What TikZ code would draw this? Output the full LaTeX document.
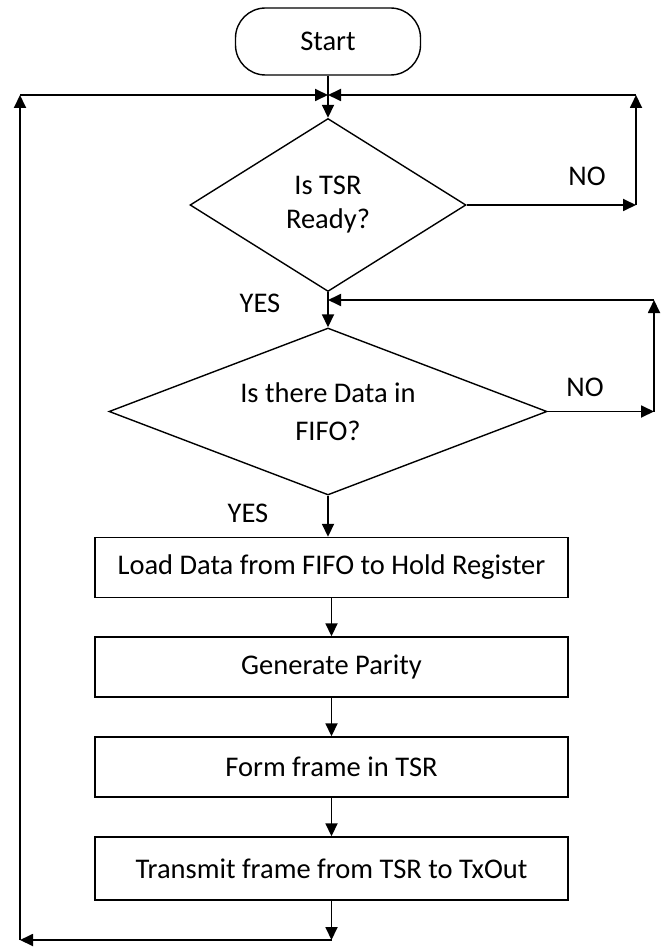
\documentclass[tikz,border=0pt]{standalone}
\usepackage{fontspec}
\setmainfont{Carlito}
\usetikzlibrary{shapes.geometric,arrows.meta}
\begin{document}
\begin{tikzpicture}[x=1pt,y=-1pt,
  line width=1.8pt,
  tip/.style={-{Triangle[length=13pt,width=12pt]}},
  txt/.style={font=\fontsize{28.5}{34}\selectfont, text=black},
  procbox/.style={draw, line width=1.4pt, txt, minimum width=473pt, minimum height=60pt, inner sep=0pt},
  decbox/.style={draw, line width=1.4pt, txt, shape=diamond, inner sep=0pt, align=center},
  termbox/.style={draw, line width=1.4pt, txt, rounded corners=30pt, minimum width=185pt, minimum height=67pt, inner sep=0pt},
  lbl/.style={txt, inner sep=0pt}
]
\useasboundingbox (0,0) rectangle (668,949);

\node[termbox] (start) at (328,41.5) {Start};
\node[decbox, shape aspect=1.6, minimum width=276pt, minimum height=173pt] (d1) at (328,205) {Is TSR\\[0pt]Ready?};
\node[decbox, shape aspect=2.62, minimum width=438pt, minimum height=167pt, font=\fontsize{28.5}{38}\selectfont] (d2) at (328,411.5) {Is there Data in\\FIFO?};
\node[procbox] (b1) at (331.5,567.5) {Load Data from FIFO to Hold Register};
\node[procbox] (b2) at (331.5,667) {Generate Parity};
\node[procbox] (b3) at (331.5,767) {Form frame in TSR};
\node[procbox, minimum height=63pt] (b4) at (331.5,868.5) {Transmit frame from TSR to TxOut};

\node[lbl] (no1) at (587,176) {NO};
\node[lbl] (yes1) at (260,303) {YES};
\node[lbl] (no2) at (585,387) {NO};
\node[lbl] (yes2) at (248,513) {YES};

\coordinate (j1) at (328,95);
\coordinate (tl) at (20,95);
\coordinate (tr) at (636,95);
\coordinate (nr) at (d1.east -| tr);
\coordinate (bl) at (20,940);
\coordinate (bb) at (331.5,940);
\coordinate (j2) at (328,300);
\coordinate (tr2) at (654,300);
\coordinate (nr2) at (d2.east -| tr2);

\draw[tip] (start.south) -- (d1.north);
\draw[tip] (d1.east) -- (nr);
\draw[tip] (nr) -- (tr);
\draw[tip] (tr) -- (j1);
\draw[tip] (tl) -- (j1);

\draw[tip] (d1.south) -- (d2.north);
\draw[tip] (d2.east) -- (nr2);
\draw[tip] (nr2) -- (tr2);
\draw[tip] (tr2) -- (j2);

\draw[tip] (d2.south) -- (d2.south |- b1.north);
\draw[tip] (b1) -- (b2);
\draw[tip] (b2) -- (b3);
\draw[tip] (b3) -- (b4);
\draw[tip] (b4.south) -- (bb);
\draw[tip] (bb) -- (bl);
\draw[tip] (bl) -- (tl);
\end{tikzpicture}
\end{document}
